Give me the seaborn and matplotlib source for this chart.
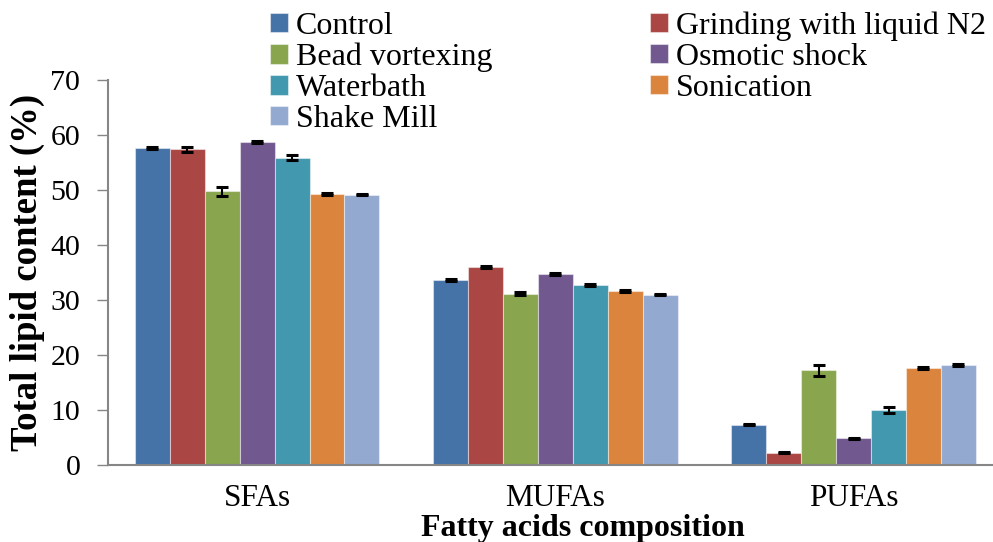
import numpy as np
import pandas as pd
import matplotlib
matplotlib.use("Agg")
from matplotlib import pyplot as plt
import seaborn as sns

# data
categories = ["SFAs", "MUFAs", "PUFAs"]
methods = ["Control", "Grinding with liquid N2", "Bead vortexing", "Osmotic shock",
           "Waterbath", "Sonication", "Shake Mill"]
control = [57.6, 33.6, 7.3]
grinding = [57.4, 36.0, 2.2]
bead = [49.8, 31.2, 17.2]
osmotic = [58.8, 34.7, 4.85]
waterbath = [55.9, 32.7, 10.0]
sonication = [49.3, 31.6, 17.6]
shake = [49.2, 31.0, 18.2]

control_err = [0.2, 0.15, 0.1]
grinding_err = [0.5, 0.2, 0.1]
bead_err = [0.85, 0.2, 0.95]
osmotic_err = [0.15, 0.15, 0.15]
waterbath_err = [0.45, 0.15, 0.55]
sonication_err = [0.25, 0.2, 0.15]
shake_err = [0.1, 0.1, 0.15]

colors = ["#4572A7", "#AA4643", "#89A54E", "#71588F", "#4198AF", "#DB843D", "#93A9CF"]

values = [control, grinding, bead, osmotic, waterbath, sonication, shake]
errors = [control_err, grinding_err, bead_err, osmotic_err, waterbath_err, sonication_err, shake_err]

df = pd.DataFrame({
    "category": np.tile(categories, len(methods)),
    "method": np.repeat(methods, len(categories)),
    "value": np.concatenate(values),
})

sns.set_style("white")
serif = ['Liberation Serif', 'DejaVu Serif']
plt.rcParams['font.family'] = serif
plt.rcParams['text.color'] = 'black'
plt.rcParams['axes.labelcolor'] = 'black'
plt.rcParams['xtick.color'] = 'black'
plt.rcParams['ytick.color'] = 'black'

fig = plt.figure(figsize=(9.93, 5.42), dpi=100)
ax = fig.add_axes([0.1088, 0.142, 0.901, 0.71])

sns.barplot(data=df, x="category", y="value", hue="method", hue_order=methods,
            order=categories, palette=colors, width=0.82, errorbar=None,
            edgecolor=(1, 1, 1, 0.45), linewidth=0.8, saturation=1, ax=ax)

# error bars on the bars seaborn drew
for cont, err in zip(ax.containers, errors):
    xs = [p.get_x() + p.get_width() / 2 for p in cont.patches]
    ys = [p.get_height() for p in cont.patches]
    ax.errorbar(xs, ys, yerr=err, fmt="none", ecolor="black", elinewidth=1.5,
                capsize=4.3, capthick=2.2, zorder=5)

ax.set_ylim(0, 70)
ax.set_xlim(-0.5, 2.5)
ax.set_yticks(range(0, 71, 10))
ax.tick_params(axis="y", labelsize=21.5, length=8, width=1, color="#868686",
               labelcolor="black", direction="out", pad=12, left=True)
ax.tick_params(axis="x", labelsize=22.5, length=0, pad=14, labelcolor="black")
for lab in ax.get_xticklabels() + ax.get_yticklabels():
    lab.set_family(serif)
for s in ["top", "right"]:
    ax.spines[s].set_visible(False)
for s in ["left", "bottom"]:
    ax.spines[s].set_color("#868686")
    ax.spines[s].set_linewidth(1.5)

ax.set_ylabel("Total lipid content (%)", fontsize=26.5, fontweight="bold", family=serif)
ax.yaxis.set_label_coords(-0.071, 0.5)
ax.set_xlabel("Fatty acids composition", fontsize=23, fontweight="bold", family=serif)
ax.xaxis.set_label_coords(0.531, -0.128)

handles, labels = ax.get_legend_handles_labels()
ax.get_legend().remove()
order = [0, 2, 4, 6, 1, 3, 5]
leg = fig.legend([handles[i] for i in order], [labels[i] for i in order],
                 ncol=2, loc="upper left", bbox_to_anchor=(0.272, 0.979),
                 frameon=False, prop={"family": serif, "size": 23},
                 handlelength=0.55, handleheight=0.55,
                 handletextpad=0.25, labelspacing=0.06, columnspacing=4.95,
                 borderaxespad=0, borderpad=0)

fig.savefig("out.png", dpi=100)
